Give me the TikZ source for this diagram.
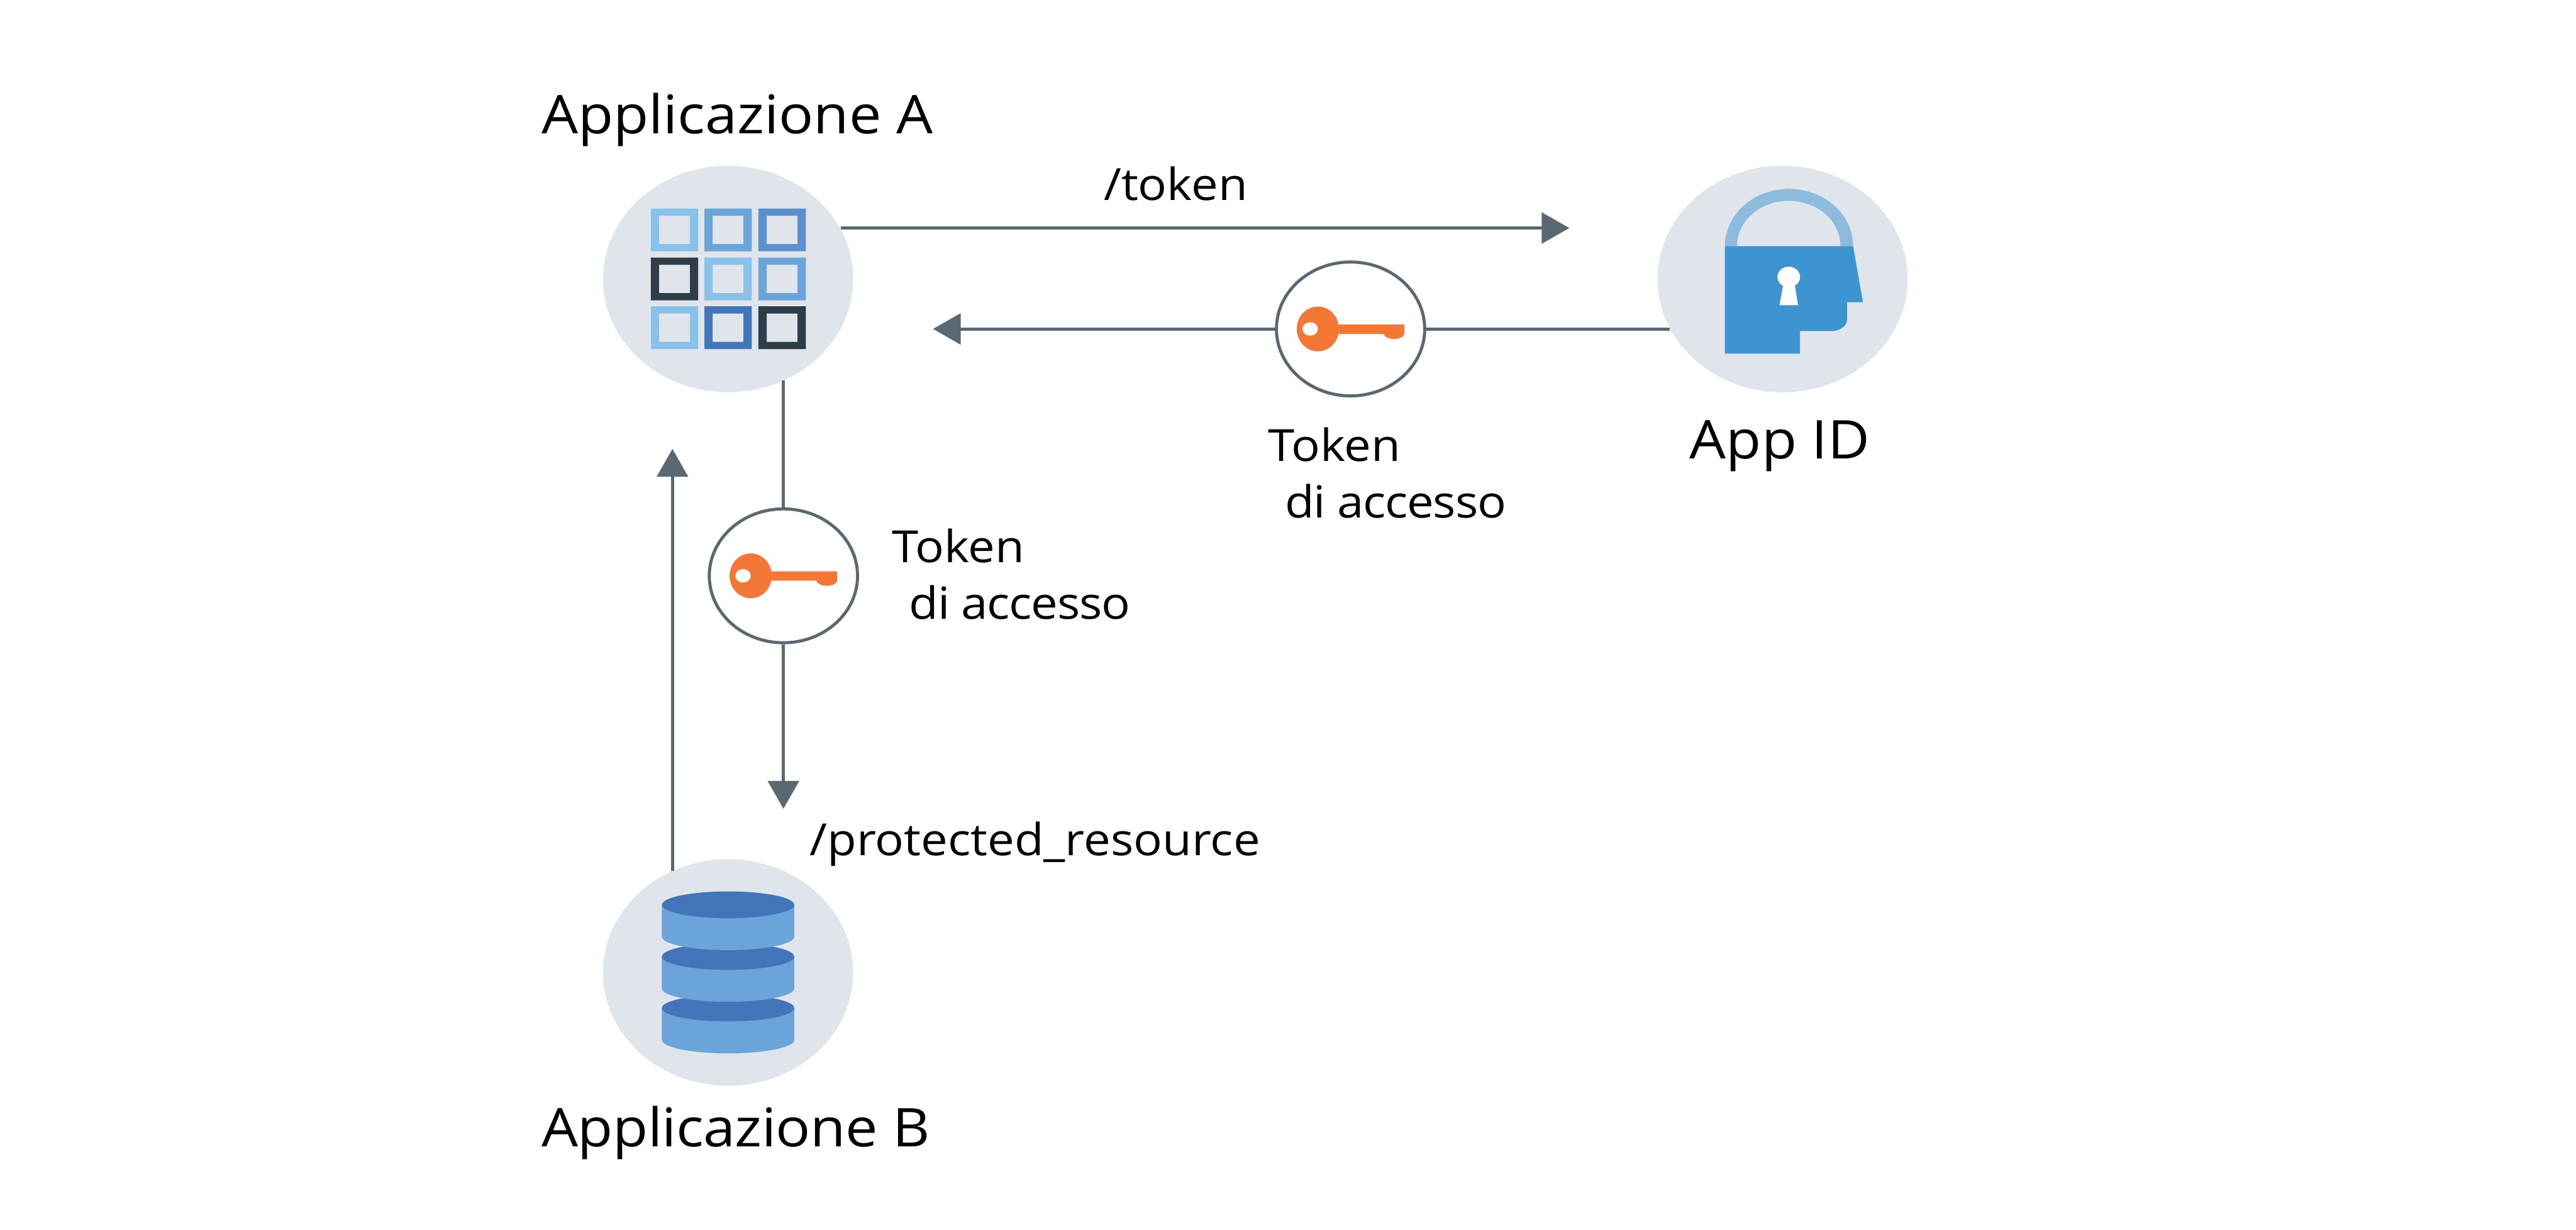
\documentclass[tikz,border=0pt]{standalone}
\usepackage{fontspec}
\setmainfont[FakeStretch=1.08]{Open Sans}
\usetikzlibrary{arrows.meta,shapes.geometric}

\definecolor{discBg}{HTML}{DFE5EB}
\definecolor{flowGray}{HTML}{5A6872}
\definecolor{keyOrange}{HTML}{F47735}
\definecolor{lockBlue}{HTML}{3D94D1}
\definecolor{shackleBlue}{HTML}{8DBBDE}
\definecolor{gridLight}{HTML}{88C1E9}
\definecolor{gridMid}{HTML}{6BA4D8}
\definecolor{gridSteel}{HTML}{5C90CC}
\definecolor{gridDeep}{HTML}{4275BA}
\definecolor{gridDark}{HTML}{2D3E4A}

\tikzset{
    appdisc/.style={ellipse, fill=discBg, inner sep=0pt, minimum width=4.86cm, minimum height=4.4cm},
    tokendisc/.style={ellipse, draw=flowGray, line width=0.06cm, fill=white, inner sep=0pt, minimum width=2.88cm, minimum height=2.6cm},
    flow/.style={draw=flowGray, line width=0.06cm, -{Triangle[length=0.54cm,width=0.6cm]}},
    link/.style={draw=flowGray, line width=0.06cm},
    biglabel/.style={anchor=base west, inner sep=0pt, font=\fontsize{29.5}{36}\selectfont},
    smalllabel/.style={anchor=base west, inner sep=0pt, font=\fontsize{24.5}{31.3}\selectfont, align=left}
}

\begin{document}
\begin{tikzpicture}

    \useasboundingbox (0,0) rectangle (50.03,23.88);

    % 1. app discs and token discs
    \node[appdisc] (appA) at (14.14,18.46) {};
    \node[appdisc] (appID) at (34.62,18.46) {};
    \node[appdisc] (appB) at (14.14,4.99) {};
    \node[tokendisc] (tokA) at (15.215,12.695) {};
    \node[tokendisc] (tokB) at (26.23,17.49) {};

    % free ends of the arrows
    \coordinate (tokenEnd) at (30.48,19.45);
    \coordinate (replyEnd) at (18.12,17.49);
    \coordinate (resourceEnd) at (15.215,8.17);
    \coordinate (clientEnd) at (13.06,15.16);

    % 2. connectors
    \draw[flow] (tokenEnd -| appA.24) -- (tokenEnd);
    \draw[link] (tokB.east) -- (tokB.east -| appID.204);
    \draw[flow] (tokB.west) -- (replyEnd);
    \draw[link] (tokA.north |- appA.-61) -- (tokA.north);
    \draw[flow] (tokA.south) -- (resourceEnd);
    \draw[flow] (clientEnd |- appB.119) -- (clientEnd);

    % 3. grid of squares in application A
    \begin{scope}[shift={(appA.center)}]
        \foreach \x/\y/\tone in {-1.04/0.955/gridLight, 0/0.955/gridMid, 1.05/0.955/gridSteel,
                                 -1.04/0/gridDark, 0/0/gridLight, 1.05/0/gridMid,
                                 -1.04/-0.945/gridLight, 0/-0.945/gridDeep, 1.05/-0.945/gridDark} {
            \fill[\tone, even odd rule] (\x-0.46,\y-0.415) rectangle (\x+0.46,\y+0.415)
                (\x-0.30,\y-0.275) rectangle (\x+0.30,\y+0.275);
        }
    \end{scope}

    % 4. padlock of App ID
    \fill[shackleBlue] (33.50,19.10) arc[start angle=180, end angle=0, x radius=1.245, y radius=1.11]
        -- (35.745,19.10) arc[start angle=0, end angle=180, x radius=1.005, y radius=0.88] -- cycle;
    \fill[lockBlue] (33.50,19.10) -- (35.99,19.10) -- (36.18,18.01) -- (35.87,18.01) -- (35.87,17.66)
        .. controls (35.87,17.55) and (35.73,17.45) .. (35.57,17.45)
        -- (34.96,17.45) -- (34.96,17.01) -- (33.50,17.01) -- cycle;
    \fill[white] (34.74,18.50) ellipse[x radius=0.22, y radius=0.20];
    \fill[white] (34.63,18.33) -- (34.86,18.33) -- (34.92,17.95) -- (34.56,17.95) -- cycle;

    % 5. stacked cylinders of application B
    \foreach \cy in {4.30,5.30,6.305} {
        \fill[gridMid] (12.855,\cy) -- (12.855,\cy-0.62)
            arc[start angle=180, end angle=360, x radius=1.285, y radius=0.26] -- (15.425,\cy) -- cycle;
        \fill[gridDeep] (14.14,\cy) ellipse[x radius=1.285, y radius=0.26];
    }

    % 6. the two keys
    \foreach \tok in {tokA,tokB} {
        \begin{scope}[shift={(\tok.center)}]
            \fill[keyOrange] (-0.635,0) ellipse[x radius=0.41, y radius=0.435];
            \fill[keyOrange] (-0.30,0.085) -- (1.045,0.085) -- (1.045,-0.095)
                .. controls (1.02,-0.17) and (0.93,-0.195) .. (0.84,-0.195)
                .. controls (0.75,-0.195) and (0.66,-0.16) .. (0.635,-0.095)
                -- (-0.30,-0.095) -- cycle;
            \fill[white] (-0.785,0) ellipse[x radius=0.15, y radius=0.13];
        \end{scope}
    }

    % 7. labels
    \node[biglabel] (labA) at (10.51,21.29) {Applicazione A};
    \node[biglabel] (labID) at (32.81,14.97) {App ID};
    \node[biglabel] (labB) at (10.51,1.61) {\addfontfeature{LetterSpace=-0.6}Applicazione B};
    \node[smalllabel] (labToken) at (21.43,19.99) {/token};
    \node[smalllabel] (labTokA) at (17.32,11.86) {Token\\\hspace*{0.33cm}{\addfontfeature{LetterSpace=-1.8}di accesso}};
    \node[smalllabel] (labTokB) at (24.62,13.82) {Token\\\hspace*{0.33cm}{\addfontfeature{LetterSpace=-1.8}di accesso}};
    \node[smalllabel] (labRes) at (15.72,7.26) {/protected\_resource};

\end{tikzpicture}
\end{document}
